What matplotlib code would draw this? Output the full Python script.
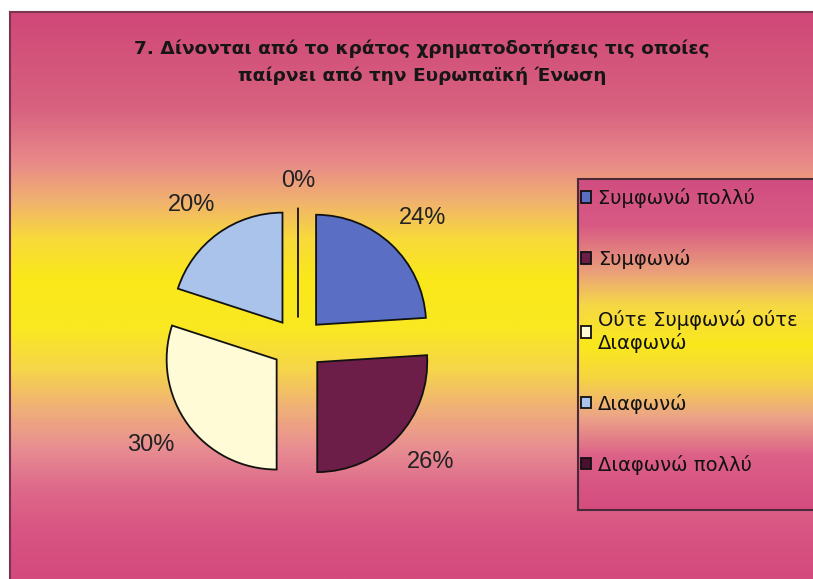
import numpy as np
import matplotlib
matplotlib.use("Agg")
import matplotlib.pyplot as plt
from matplotlib.colors import LinearSegmentedColormap

# ---------------- data ----------------
title = "7. Δίνονται από το κράτος χρηματοδοτήσεις τις οποίες\nπαίρνει από την Ευρωπαϊκή Ένωση"
categories = ["Συμφωνώ πολλύ", "Συμφωνώ", "Ούτε Συμφωνώ ούτε\nΔιαφωνώ", "Διαφωνώ", "Διαφωνώ πολλύ"]
values = [24, 26, 30, 20, 0]
colors = ["#5a6ec4", "#6c1e48", "#fffbd6", "#a9c3ea", "#4a1030"]

plt.rcParams['font.family'] = ['Liberation Sans', 'DejaVu Sans']

W, H = 813, 579
fig = plt.figure(figsize=(W / 100, H / 100), dpi=100)
fig.patch.set_facecolor("white")

def fx(px):
    return px / W

def fy(py):
    return 1 - py / H

# ---------------- background gradient ----------------
bg_stops = [
    (0.00, "#d04878"), (0.17, "#d8627f"), (0.26, "#e8888a"), (0.33, "#f0b070"),
    (0.40, "#f8da3a"), (0.47, "#fae81a"), (0.56, "#fae822"), (0.63, "#f6d64a"),
    (0.70, "#f0b078"), (0.77, "#e88e92"), (0.84, "#de6a8a"), (0.92, "#d85482"),
    (1.00, "#d44a7c"),
]
bg_cmap = LinearSegmentedColormap.from_list("bg", bg_stops)
bg = fig.add_axes([fx(10), 0, 1 - fx(10), fy(12)])
grad = np.linspace(0, 1, 400).reshape(-1, 1)
bg.imshow(grad, aspect="auto", cmap=bg_cmap, extent=[0, 1, 0, 1], origin="upper")
bg.set_xticks([]); bg.set_yticks([])
for s in ["right", "bottom"]:
    bg.spines[s].set_visible(False)
for s in ["top", "left"]:
    bg.spines[s].set_color("#7a3450")
    bg.spines[s].set_linewidth(1.5)

# ---------------- title ----------------
fig.text(fx(422), fy(62), title, ha="center", va="center", fontsize=13.3,
         fontweight="bold", color="#161616", linespacing=1.6,
         family=["DejaVu Sans"])

# ---------------- pie ----------------
cx, cy, r = 298, 344, 110
half = 200
ax = fig.add_axes([fx(cx - half), fy(cy + half), (2 * half) / W, (2 * half) / H])
ax.patch.set_alpha(0)
wedges, texts, autotexts = ax.pie(
    values, colors=colors, startangle=90, counterclock=False,
    explode=[0.24] * len(values), autopct="%1.0f%%", pctdistance=1.41,
    wedgeprops=dict(edgecolor="#111111", linewidth=1.3),
    textprops=dict(fontsize=17, color="#222222"),
)
# labels are pulled slightly toward the horizontal centre line
for v, t in zip(values, autotexts):
    x, y = t.get_position()
    t.set_position((x, y * (0.9 if v == 0 else 0.95)))
lim = half / r
ax.set_xlim(-lim, lim)
ax.set_ylim(-lim, lim)
ax.set_aspect("equal")
ax.axis("off")

# ---------------- legend ----------------
lg_stops = [
    (0.00, "#d04e80"), (0.14, "#d85a84"), (0.28, "#eaa07a"), (0.38, "#f6d846"),
    (0.50, "#fae81c"), (0.60, "#f6d640"), (0.72, "#eca488"), (0.84, "#dc6088"),
    (1.00, "#d44c7e"),
]
lg_cmap = LinearSegmentedColormap.from_list("lg", lg_stops)
lx0, ly0, lx1, ly1 = 578, 179, 820, 510
lax = fig.add_axes([fx(lx0), fy(ly1), (lx1 - lx0) / W, (ly1 - ly0) / H])
lax.imshow(grad, aspect="auto", cmap=lg_cmap, extent=[0, 1, 0, 1], origin="upper")
lax.set_xticks([]); lax.set_yticks([])
for s in lax.spines.values():
    s.set_color("#4a2a38")
    s.set_linewidth(1.5)

leg = fig.legend(
    wedges, categories, loc="upper left",
    bbox_to_anchor=(fx(581), fy(188)), bbox_transform=fig.transFigure,
    frameon=False, borderpad=0, borderaxespad=0, labelspacing=2.1,
    prop=dict(family=["DejaVu Sans"], size=14),
    handlelength=0.52, handleheight=0.52, handletextpad=0.35,
)
for t in leg.get_texts():
    t.set_color("#111111")

fig.savefig("out.png", dpi=100)
